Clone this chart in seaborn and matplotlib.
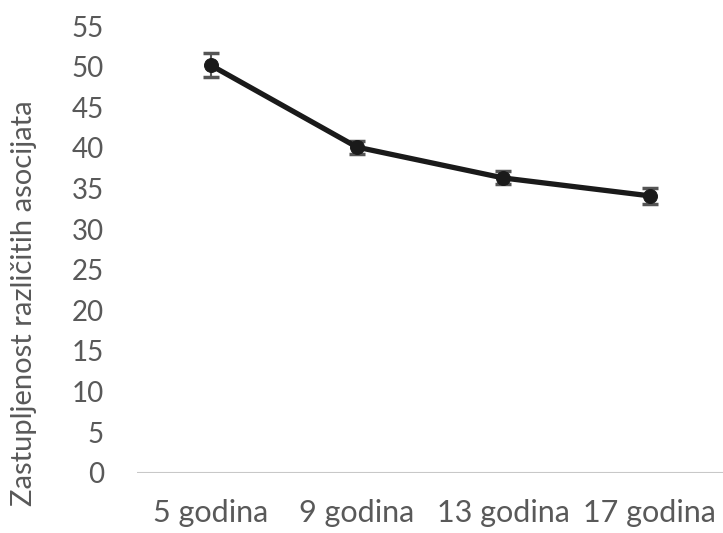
import pandas as pd
import matplotlib.pyplot as plt
import seaborn as sns
import numpy as np

# Data
ages = ['5 godina', '9 godina', '13 godina', '17 godina']
means = [50.2, 40.1, 36.3, 34.1]
errors = [1.5, 0.8, 0.8, 1.0]

df = pd.DataFrame({'age': ages, 'mean': means, 'err': errors})
df['pos'] = np.arange(len(ages))

sns.set_style('white')
plt.rcParams['font.family'] = ['Lato', 'DejaVu Sans']

fig, ax = plt.subplots(figsize=(7.23, 5.33), dpi=100)
sns.lineplot(x='pos', y='mean', data=df, ax=ax, color='#1a1a1a', linewidth=3.8,
             marker='o', markersize=10, markeredgecolor='#1a1a1a', zorder=3)
ax.errorbar(df['pos'], df['mean'], yerr=df['err'], fmt='none', ecolor='#555555',
            elinewidth=1.5, capsize=6, capthick=2.5, zorder=2)

ax.axhline(0, color='#c8c8c8', linewidth=1.5, zorder=1)
ax.set_xlim(-0.5, 3.5)
ax.set_ylim(0, 55)
ax.set_yticks(range(0, 56, 5))
ax.set_xticks(df['pos'])
ax.set_xticklabels(ages)
ax.tick_params(axis='both', length=0, labelcolor='#595959')
ax.tick_params(axis='x', labelsize=22, pad=19)
ax.tick_params(axis='y', labelsize=20, pad=24)
ax.set_xlabel('')
ax.set_ylabel('Zastupljenost različitih asocijata', fontsize=21, color='#595959')
ax.yaxis.set_label_coords(-0.172, 0.38)
sns.despine(ax=ax, left=True, bottom=True)

plt.subplots_adjust(left=0.19, right=1.0, top=0.951, bottom=0.113)
plt.savefig('out.png', dpi=100)
plt.close()
